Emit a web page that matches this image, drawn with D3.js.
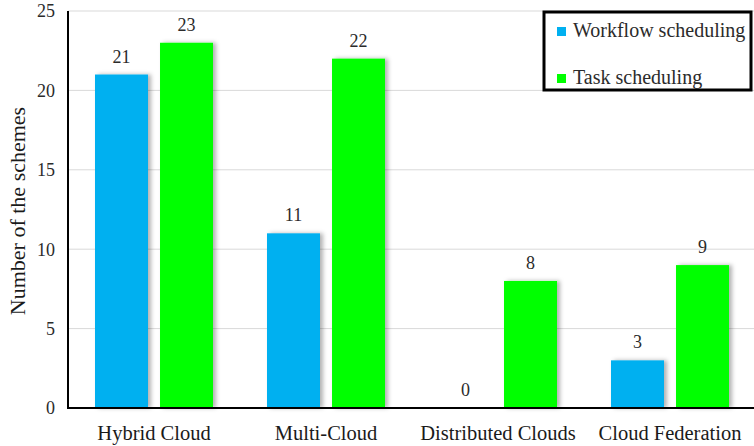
<!DOCTYPE html>
<html>
<head>
<meta charset="utf-8">
<script src="https://cdn.jsdelivr.net/npm/d3@7"></script>
<style>
  body { margin: 0; background: #fff; }
</style>
</head>
<body>
<div id="chart"></div>
<script>
const categories = ['Hybrid Cloud', 'Multi-Cloud', 'Distributed Clouds', 'Cloud Federation'];
const seriesNames = ['Workflow scheduling', 'Task scheduling'];
const workflowValues = [21, 11, 0, 3];
const taskValues = [23, 22, 8, 9];
const yTicks = [0, 5, 10, 15, 20, 25];
const colors = ['#00b0f0', '#00ff00'];

const width = 754, height = 446;
const plotLeft = 68, plotBottom = 408, plotTop = 11;
const serif = '"Liberation Serif", "DejaVu Serif", serif';

const svg = d3.select('#chart').append('svg')
    .attr('width', width)
    .attr('height', height)
    .style('font-family', serif);

// soft shadow on the right of each bar
const shadow = svg.append('defs').append('filter')
    .attr('id', 'shadow')
    .attr('x', '-10%').attr('y', '-10%')
    .attr('width', '140%').attr('height', '120%');
shadow.append('feDropShadow')
    .attr('dx', 3).attr('dy', 0)
    .attr('stdDeviation', 2)
    .attr('flood-color', '#000')
    .attr('flood-opacity', 0.3);

const x0 = d3.scaleBand()
    .domain(categories)
    .range([plotLeft, plotLeft + 688])
    .paddingInner(0.314)
    .paddingOuter(0.157);

const x1 = d3.scaleBand()
    .domain(seriesNames)
    .range([0, x0.bandwidth()])
    .paddingInner(0.185);

const y = d3.scaleLinear()
    .domain([0, 25])
    .range([plotBottom, plotTop]);

// gridlines
svg.append('g').selectAll('line')
    .data(yTicks.filter(t => t > 0))
    .enter().append('line')
    .attr('x1', plotLeft)
    .attr('x2', width)
    .attr('y1', d => y(d))
    .attr('y2', d => y(d))
    .attr('stroke', '#d9d9d9')
    .attr('stroke-width', 1);

// y tick labels
svg.append('g').selectAll('text')
    .data(yTicks)
    .enter().append('text')
    .attr('x', 55)
    .attr('y', d => y(d))
    .attr('dy', '0.35em')
    .attr('text-anchor', 'end')
    .attr('font-family', serif)
    .attr('font-size', 18)
    .attr('fill', '#2b2b2b')
    .text(d => d);

const rows = categories.map((c, i) => ({
    cat: c,
    vals: [workflowValues[i], taskValues[i]]
}));

const group = svg.append('g').selectAll('g')
    .data(rows)
    .enter().append('g')
    .attr('transform', d => `translate(${x0(d.cat)},0)`);

group.selectAll('rect')
    .data(d => d.vals.map((v, j) => ({ key: seriesNames[j], v: v, j: j })))
    .enter().append('rect')
    .filter(d => d.v > 0)
    .attr('x', d => x1(d.key))
    .attr('y', d => y(d.v))
    .attr('width', x1.bandwidth())
    .attr('height', d => plotBottom - y(d.v))
    .attr('fill', d => colors[d.j])
    .attr('filter', 'url(#shadow)');

group.selectAll('text')
    .data(d => d.vals.map((v, j) => ({ key: seriesNames[j], v: v })))
    .enter().append('text')
    .attr('x', d => x1(d.key) + x1.bandwidth() / 2)
    .attr('y', d => y(d.v) - 12)
    .attr('text-anchor', 'middle')
    .attr('font-family', serif)
    .attr('font-size', 18)
    .attr('fill', '#2b2b2b')
    .text(d => d.v);

// axis lines
svg.append('line')
    .attr('x1', plotLeft).attr('x2', plotLeft)
    .attr('y1', plotTop).attr('y2', plotBottom + 1)
    .attr('stroke', '#000').attr('stroke-width', 2);
svg.append('line')
    .attr('x1', plotLeft - 1).attr('x2', width)
    .attr('y1', plotBottom).attr('y2', plotBottom)
    .attr('stroke', '#000').attr('stroke-width', 2);

// category labels
svg.append('g').selectAll('text')
    .data(categories)
    .enter().append('text')
    .attr('x', d => x0(d) + x0.bandwidth() / 2)
    .attr('y', 440)
    .attr('text-anchor', 'middle')
    .attr('font-family', serif)
    .attr('font-size', 20.5)
    .attr('fill', '#1a1a1a')
    .text(d => d);

// y axis title
svg.append('text')
    .attr('transform', `translate(17,211) rotate(-90)`)
    .attr('text-anchor', 'middle')
    .attr('dy', '0.35em')
    .attr('font-family', serif)
    .attr('font-size', 22)
    .attr('fill', '#1a1a1a')
    .text('Number of the schemes');

// legend
const legend = svg.append('g');
legend.append('rect')
    .attr('x', 544).attr('y', 12)
    .attr('width', 207).attr('height', 78)
    .attr('fill', '#fff')
    .attr('stroke', '#000')
    .attr('stroke-width', 3);

const items = legend.selectAll('g')
    .data(seriesNames)
    .enter().append('g')
    .attr('transform', (d, i) => `translate(557,${i * 47})`);
items.append('rect')
    .attr('x', 0).attr('y', 27)
    .attr('width', 9).attr('height', 9)
    .attr('fill', (d, i) => colors[i]);
items.append('text')
    .attr('x', 16).attr('y', 37)
    .attr('font-family', serif)
    .attr('font-size', 20)
    .attr('fill', '#2b2b2b')
    .text(d => d);
</script>
</body>
</html>
